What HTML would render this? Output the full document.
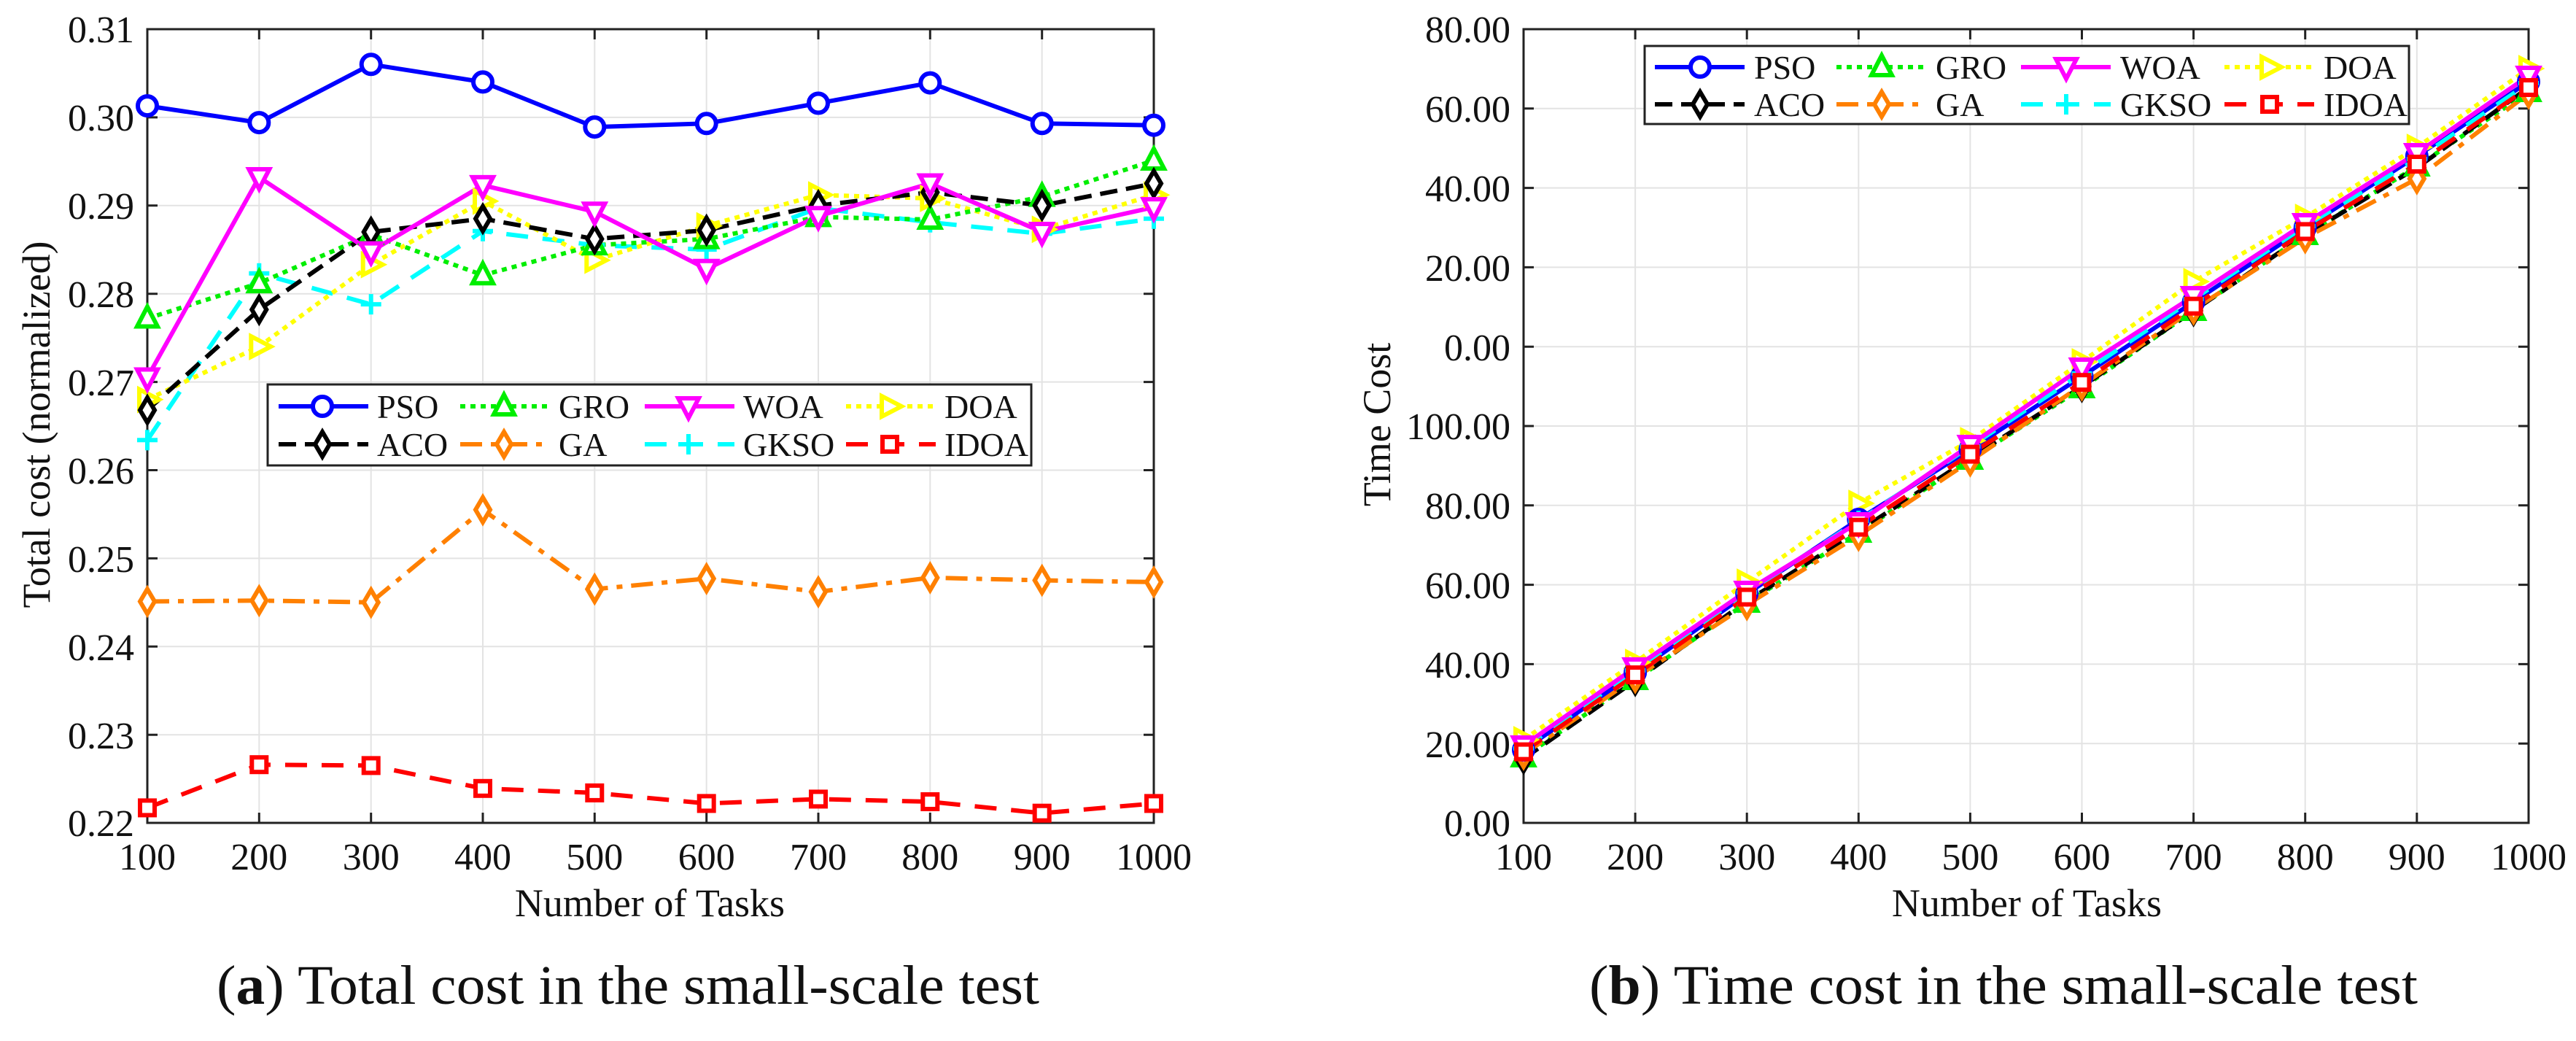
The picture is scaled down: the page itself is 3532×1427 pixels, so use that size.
<!DOCTYPE html>
<html><head><meta charset="utf-8"><style>
html,body{margin:0;padding:0;background:#fff;}
svg{display:block;}
text{font-family:"Liberation Serif",serif;fill:#111;}
</style></head><body>
<svg width="3532" height="1427" viewBox="0 0 3532 1427" xmlns="http://www.w3.org/2000/svg">
<defs>
<g id="mPSO" fill="#fff" stroke="#0000ff" stroke-width="6"><circle cx="0" cy="0" r="13"/></g>
<g id="mGRO" fill="#fff" stroke="#00ee00" stroke-width="6"><polygon points="0,-16 14,11 -14,11"/></g>
<g id="mWOA" fill="#fff" stroke="#ff00ff" stroke-width="6"><polygon points="0,16 14,-11 -14,-11"/></g>
<g id="mDOA" fill="#fff" stroke="#ffff00" stroke-width="6"><polygon points="16,0 -11,14 -11,-14"/></g>
<g id="mACO" fill="#fff" stroke="#000" stroke-width="6"><polygon points="0,-17 10,0 0,17 -10,0"/></g>
<g id="mGA" fill="#fff" stroke="#ff8000" stroke-width="6"><polygon points="0,-17 10,0 0,17 -10,0"/></g>
<g id="mGKSO" stroke="#00ffff" stroke-width="6"><line x1="-14" y1="0" x2="14" y2="0"/><line x1="0" y1="-14" x2="0" y2="14"/></g>
<g id="mIDOA" fill="#fff" stroke="#ff0000" stroke-width="6"><rect x="-10" y="-10" width="20" height="20"/></g>
</defs>

<!-- LEFT CHART -->
<g stroke="#e3e3e3" stroke-width="2">
<line x1="355.3" y1="40" x2="355.3" y2="1128"/><line x1="508.7" y1="40" x2="508.7" y2="1128"/><line x1="662" y1="40" x2="662" y2="1128"/><line x1="815.3" y1="40" x2="815.3" y2="1128"/><line x1="968.7" y1="40" x2="968.7" y2="1128"/><line x1="1122" y1="40" x2="1122" y2="1128"/><line x1="1275.3" y1="40" x2="1275.3" y2="1128"/><line x1="1428.7" y1="40" x2="1428.7" y2="1128"/>
<line x1="202" y1="160.9" x2="1582" y2="160.9"/><line x1="202" y1="281.8" x2="1582" y2="281.8"/><line x1="202" y1="402.7" x2="1582" y2="402.7"/><line x1="202" y1="523.6" x2="1582" y2="523.6"/><line x1="202" y1="644.5" x2="1582" y2="644.5"/><line x1="202" y1="765.4" x2="1582" y2="765.4"/><line x1="202" y1="886.3" x2="1582" y2="886.3"/><line x1="202" y1="1007.2" x2="1582" y2="1007.2"/>
</g>
<g stroke="#222" stroke-width="3">
<path d="M355.3,40v14M508.7,40v14M662,40v14M815.3,40v14M968.7,40v14M1122,40v14M1275.3,40v14M1428.7,40v14M355.3,1128v-14M508.7,1128v-14M662,1128v-14M815.3,1128v-14M968.7,1128v-14M1122,1128v-14M1275.3,1128v-14M1428.7,1128v-14"/>
<path d="M202,160.9h14M202,281.8h14M202,402.7h14M202,523.6h14M202,644.5h14M202,765.4h14M202,886.3h14M202,1007.2h14M1582,160.9h-14M1582,281.8h-14M1582,402.7h-14M1582,523.6h-14M1582,644.5h-14M1582,765.4h-14M1582,886.3h-14M1582,1007.2h-14"/>
<rect x="202" y="40" width="1380" height="1088" fill="none"/>
</g>
<g font-size="52" text-anchor="end">
<text x="184" y="58">0.31</text><text x="184" y="179">0.30</text><text x="184" y="300">0.29</text><text x="184" y="421">0.28</text><text x="184" y="542">0.27</text><text x="184" y="663">0.26</text><text x="184" y="784">0.25</text><text x="184" y="905">0.24</text><text x="184" y="1026">0.23</text><text x="184" y="1146">0.22</text>
</g>
<g font-size="52" text-anchor="middle">
<text x="202" y="1192">100</text><text x="355.3" y="1192">200</text><text x="508.7" y="1192">300</text><text x="662" y="1192">400</text><text x="815.3" y="1192">500</text><text x="968.7" y="1192">600</text><text x="1122" y="1192">700</text><text x="1275.3" y="1192">800</text><text x="1428.7" y="1192">900</text><text x="1582" y="1192">1000</text>
<text x="891" y="1256" font-size="54">Number of Tasks</text>
<text transform="translate(68,582) rotate(-90)" font-size="54">Total cost (normalized)</text>
</g>
<g fill="none" stroke-width="6" stroke-linejoin="round">
<polyline stroke="#ff8000" stroke-dasharray="30,12,8,12" points="202,824.5 355.3,823.3 508.7,825.7 662,698.8 815.3,807.6 968.7,793.1 1122,811.2 1275.3,791.9 1428.7,795.5 1582,797.9"/>
<polyline stroke="#ff0000" stroke-dasharray="30,20" points="202,1107.4 355.3,1048.2 508.7,1049.4 662,1080.8 815.3,1086.9 968.7,1101.4 1122,1095.4 1275.3,1099 1428.7,1114.7 1582,1101.4"/>
<polyline stroke="#00ffff" stroke-dasharray="30,20" points="202,603.3 355.3,374.8 508.7,417.1 662,316.8 815.3,336.1 968.7,342.1 1122,285.3 1275.3,304.7 1428.7,320.4 1582,299.8"/>
<polyline stroke="#ffff00" stroke-dasharray="7,7" points="202,547.7 355.3,475.1 508.7,362.7 662,275.7 815.3,356.7 968.7,309.5 1122,267.2 1275.3,272 1428.7,314.3 1582,267.2"/>
<polyline stroke="#00ee00" stroke-dasharray="7,7" points="202,436.5 355.3,388.1 508.7,321.6 662,377.2 815.3,336.1 968.7,327.6 1122,297.4 1275.3,301 1428.7,269.6 1582,220"/>
<polyline stroke="#000" stroke-dasharray="24,12" points="202,562.2 355.3,424.4 508.7,318 662,299.8 815.3,327.6 968.7,315.6 1122,281.7 1275.3,263.6 1428.7,281.7 1582,251.5"/>
<polyline stroke="#ff00ff" points="202,517.5 355.3,243 508.7,344.6 662,253.9 815.3,290.2 968.7,368.7 1122,296.2 1275.3,251.5 1428.7,318 1582,284.1"/>
<polyline stroke="#0000ff" points="202,145.1 355.3,168.1 508.7,88.3 662,112.4 815.3,174.1 968.7,169.3 1122,141.5 1275.3,113.6 1428.7,169.3 1582,171.7"/>
</g>
<g>
<use href="#mGA" x="202" y="824.5"/><use href="#mGA" x="355.3" y="823.3"/><use href="#mGA" x="508.7" y="825.7"/><use href="#mGA" x="662" y="698.8"/><use href="#mGA" x="815.3" y="807.6"/><use href="#mGA" x="968.7" y="793.1"/><use href="#mGA" x="1122" y="811.2"/><use href="#mGA" x="1275.3" y="791.9"/><use href="#mGA" x="1428.7" y="795.5"/><use href="#mGA" x="1582" y="797.9"/>
<use href="#mIDOA" x="202" y="1107.4"/><use href="#mIDOA" x="355.3" y="1048.2"/><use href="#mIDOA" x="508.7" y="1049.4"/><use href="#mIDOA" x="662" y="1080.8"/><use href="#mIDOA" x="815.3" y="1086.9"/><use href="#mIDOA" x="968.7" y="1101.4"/><use href="#mIDOA" x="1122" y="1095.4"/><use href="#mIDOA" x="1275.3" y="1099"/><use href="#mIDOA" x="1428.7" y="1114.7"/><use href="#mIDOA" x="1582" y="1101.4"/>
<use href="#mGKSO" x="202" y="603.3"/><use href="#mGKSO" x="355.3" y="374.8"/><use href="#mGKSO" x="508.7" y="417.1"/><use href="#mGKSO" x="662" y="316.8"/><use href="#mGKSO" x="815.3" y="336.1"/><use href="#mGKSO" x="968.7" y="342.1"/><use href="#mGKSO" x="1122" y="285.3"/><use href="#mGKSO" x="1275.3" y="304.7"/><use href="#mGKSO" x="1428.7" y="320.4"/><use href="#mGKSO" x="1582" y="299.8"/>
<use href="#mDOA" x="202" y="547.7"/><use href="#mDOA" x="355.3" y="475.1"/><use href="#mDOA" x="508.7" y="362.7"/><use href="#mDOA" x="662" y="275.7"/><use href="#mDOA" x="815.3" y="356.7"/><use href="#mDOA" x="968.7" y="309.5"/><use href="#mDOA" x="1122" y="267.2"/><use href="#mDOA" x="1275.3" y="272"/><use href="#mDOA" x="1428.7" y="314.3"/><use href="#mDOA" x="1582" y="267.2"/>
<use href="#mGRO" x="202" y="436.5"/><use href="#mGRO" x="355.3" y="388.1"/><use href="#mGRO" x="508.7" y="321.6"/><use href="#mGRO" x="662" y="377.2"/><use href="#mGRO" x="815.3" y="336.1"/><use href="#mGRO" x="968.7" y="327.6"/><use href="#mGRO" x="1122" y="297.4"/><use href="#mGRO" x="1275.3" y="301"/><use href="#mGRO" x="1428.7" y="269.6"/><use href="#mGRO" x="1582" y="220"/>
<use href="#mACO" x="202" y="562.2"/><use href="#mACO" x="355.3" y="424.4"/><use href="#mACO" x="508.7" y="318"/><use href="#mACO" x="662" y="299.8"/><use href="#mACO" x="815.3" y="327.6"/><use href="#mACO" x="968.7" y="315.6"/><use href="#mACO" x="1122" y="281.7"/><use href="#mACO" x="1275.3" y="263.6"/><use href="#mACO" x="1428.7" y="281.7"/><use href="#mACO" x="1582" y="251.5"/>
<use href="#mWOA" x="202" y="517.5"/><use href="#mWOA" x="355.3" y="243"/><use href="#mWOA" x="508.7" y="344.6"/><use href="#mWOA" x="662" y="253.9"/><use href="#mWOA" x="815.3" y="290.2"/><use href="#mWOA" x="968.7" y="368.7"/><use href="#mWOA" x="1122" y="296.2"/><use href="#mWOA" x="1275.3" y="251.5"/><use href="#mWOA" x="1428.7" y="318"/><use href="#mWOA" x="1582" y="284.1"/>
<use href="#mPSO" x="202" y="145.1"/><use href="#mPSO" x="355.3" y="168.1"/><use href="#mPSO" x="508.7" y="88.3"/><use href="#mPSO" x="662" y="112.4"/><use href="#mPSO" x="815.3" y="174.1"/><use href="#mPSO" x="968.7" y="169.3"/><use href="#mPSO" x="1122" y="141.5"/><use href="#mPSO" x="1275.3" y="113.6"/><use href="#mPSO" x="1428.7" y="169.3"/><use href="#mPSO" x="1582" y="171.7"/>
</g>
<!-- left legend -->
<rect x="367" y="527" width="1047" height="111" fill="#fff" stroke="#222" stroke-width="3"/>
<g fill="none" stroke-width="6">
<line x1="382" y1="557" x2="505" y2="557" stroke="#0000ff"/>
<line x1="631" y1="557" x2="754" y2="557" stroke="#00ee00" stroke-dasharray="7,7"/>
<line x1="884" y1="557" x2="1007" y2="557" stroke="#ff00ff"/>
<line x1="1160" y1="557" x2="1283" y2="557" stroke="#ffff00" stroke-dasharray="7,7"/>
<line x1="382" y1="609" x2="505" y2="609" stroke="#000" stroke-dasharray="24,12"/>
<line x1="631" y1="609" x2="754" y2="609" stroke="#ff8000" stroke-dasharray="30,12,8,12"/>
<line x1="884" y1="609" x2="1007" y2="609" stroke="#00ffff" stroke-dasharray="30,20"/>
<line x1="1160" y1="609" x2="1283" y2="609" stroke="#ff0000" stroke-dasharray="30,20"/>
</g>
<use href="#mPSO" x="442" y="557"/><use href="#mGRO" x="691" y="557"/><use href="#mWOA" x="944" y="557"/><use href="#mDOA" x="1220" y="557"/>
<use href="#mACO" x="442" y="609"/><use href="#mGA" x="691" y="609"/><use href="#mGKSO" x="944" y="609"/><use href="#mIDOA" x="1220" y="609"/>
<g font-size="46">
<text x="517" y="573">PSO</text><text x="766" y="573">GRO</text><text x="1019" y="573">WOA</text><text x="1295" y="573">DOA</text>
<text x="517" y="625">ACO</text><text x="766" y="625">GA</text><text x="1019" y="625">GKSO</text><text x="1295" y="625">IDOA</text>
</g>
<text x="297" y="1376" font-size="76" textLength="1128" lengthAdjust="spacingAndGlyphs">(<tspan font-weight="bold">a</tspan>) Total cost in the small-scale test</text>

<!-- RIGHT CHART -->
<g stroke="#e3e3e3" stroke-width="2">
<line x1="2242.1" y1="40" x2="2242.1" y2="1128"/><line x1="2395.2" y1="40" x2="2395.2" y2="1128"/><line x1="2548.3" y1="40" x2="2548.3" y2="1128"/><line x1="2701.4" y1="40" x2="2701.4" y2="1128"/><line x1="2854.5" y1="40" x2="2854.5" y2="1128"/><line x1="3007.6" y1="40" x2="3007.6" y2="1128"/><line x1="3160.7" y1="40" x2="3160.7" y2="1128"/><line x1="3313.8" y1="40" x2="3313.8" y2="1128"/>
<line x1="2089" y1="148.8" x2="3467" y2="148.8"/><line x1="2089" y1="257.6" x2="3467" y2="257.6"/><line x1="2089" y1="366.4" x2="3467" y2="366.4"/><line x1="2089" y1="475.2" x2="3467" y2="475.2"/><line x1="2089" y1="584" x2="3467" y2="584"/><line x1="2089" y1="692.8" x2="3467" y2="692.8"/><line x1="2089" y1="801.6" x2="3467" y2="801.6"/><line x1="2089" y1="910.4" x2="3467" y2="910.4"/><line x1="2089" y1="1019.2" x2="3467" y2="1019.2"/>
</g>
<g stroke="#222" stroke-width="3">
<path d="M2242.1,40v14M2395.2,40v14M2548.3,40v14M2701.4,40v14M2854.5,40v14M3007.6,40v14M3160.7,40v14M3313.8,40v14M2242.1,1128v-14M2395.2,1128v-14M2548.3,1128v-14M2701.4,1128v-14M2854.5,1128v-14M3007.6,1128v-14M3160.7,1128v-14M3313.8,1128v-14"/>
<path d="M2089,148.8h14M2089,257.6h14M2089,366.4h14M2089,475.2h14M2089,584h14M2089,692.8h14M2089,801.6h14M2089,910.4h14M2089,1019.2h14M3467,148.8h-14M3467,257.6h-14M3467,366.4h-14M3467,475.2h-14M3467,584h-14M3467,692.8h-14M3467,801.6h-14M3467,910.4h-14M3467,1019.2h-14"/>
<rect x="2089" y="40" width="1378" height="1088" fill="none"/>
</g>
<g font-size="52" text-anchor="end">
<text x="2071" y="58">80.00</text><text x="2071" y="167">60.00</text><text x="2071" y="276">40.00</text><text x="2071" y="385">20.00</text><text x="2071" y="494">0.00</text><text x="2071" y="602">100.00</text><text x="2071" y="711">80.00</text><text x="2071" y="820">60.00</text><text x="2071" y="929">40.00</text><text x="2071" y="1038">20.00</text><text x="2071" y="1146">0.00</text>
</g>
<g font-size="52" text-anchor="middle">
<text x="2089" y="1192">100</text><text x="2242.1" y="1192">200</text><text x="2395.2" y="1192">300</text><text x="2548.3" y="1192">400</text><text x="2701.4" y="1192">500</text><text x="2854.5" y="1192">600</text><text x="3007.6" y="1192">700</text><text x="3160.7" y="1192">800</text><text x="3313.8" y="1192">900</text><text x="3467" y="1192">1000</text>
<text x="2779" y="1256" font-size="54">Number of Tasks</text>
<text transform="translate(1906,582) rotate(-90)" font-size="54">Time Cost</text>
</g>
<g fill="none" stroke-width="6" stroke-linejoin="round">
<polyline stroke="#00ee00" stroke-dasharray="7,7" points="2089,1038 2242.1,932 2395.2,826 2548.3,730 2701.4,630 2854.5,532 3007.6,426 3160.7,322 3313.8,228 3467,126"/>
<polyline stroke="#000" stroke-dasharray="24,12" points="2089,1040 2242.1,933 2395.2,824 2548.3,728 2701.4,628 2854.5,530 3007.6,426 3160.7,322 3313.8,230 3467,120"/>
<polyline stroke="#ff8000" stroke-dasharray="30,12,8,12" points="2089,1034 2242.1,929 2395.2,829 2548.3,734 2701.4,632 2854.5,528 3007.6,424 3160.7,326 3313.8,245 3467,128"/>
<polyline stroke="#ffff00" stroke-dasharray="7,7" points="2089,1014 2242.1,908 2395.2,798 2548.3,690 2701.4,604 2854.5,496 3007.6,386 3160.7,298 3313.8,202 3467,94"/>
<polyline stroke="#0000ff" points="2089,1028 2242.1,922 2395.2,814 2548.3,712 2701.4,616 2854.5,516 3007.6,414 3160.7,312 3313.8,214 3467,112"/>
<polyline stroke="#00ffff" stroke-dasharray="30,20" points="2089,1026 2242.1,919 2395.2,812 2548.3,714 2701.4,612 2854.5,512 3007.6,410 3160.7,310 3313.8,218 3467,114"/>
<polyline stroke="#ff00ff" points="2089,1022 2242.1,915 2395.2,810 2548.3,716 2701.4,610 2854.5,504 3007.6,406 3160.7,306 3313.8,210 3467,104"/>
<polyline stroke="#ff0000" stroke-dasharray="30,20" points="2089,1030.6 2242.1,925.1 2395.2,818.5 2548.3,722.7 2701.4,622.6 2854.5,524.2 3007.6,419.7 3160.7,317.4 3313.8,225 3467,120"/>
</g>
<g>
<use href="#mGRO" x="2089" y="1038"/><use href="#mGRO" x="2242.1" y="932"/><use href="#mGRO" x="2395.2" y="826"/><use href="#mGRO" x="2548.3" y="730"/><use href="#mGRO" x="2701.4" y="630"/><use href="#mGRO" x="2854.5" y="532"/><use href="#mGRO" x="3007.6" y="426"/><use href="#mGRO" x="3160.7" y="322"/><use href="#mGRO" x="3313.8" y="228"/><use href="#mGRO" x="3467" y="126"/>
<use href="#mACO" x="2089" y="1040"/><use href="#mACO" x="2242.1" y="933"/><use href="#mACO" x="2395.2" y="824"/><use href="#mACO" x="2548.3" y="728"/><use href="#mACO" x="2701.4" y="628"/><use href="#mACO" x="2854.5" y="530"/><use href="#mACO" x="3007.6" y="426"/><use href="#mACO" x="3160.7" y="322"/><use href="#mACO" x="3313.8" y="230"/><use href="#mACO" x="3467" y="120"/>
<use href="#mGA" x="2089" y="1034"/><use href="#mGA" x="2242.1" y="929"/><use href="#mGA" x="2395.2" y="829"/><use href="#mGA" x="2548.3" y="734"/><use href="#mGA" x="2701.4" y="632"/><use href="#mGA" x="2854.5" y="528"/><use href="#mGA" x="3007.6" y="424"/><use href="#mGA" x="3160.7" y="326"/><use href="#mGA" x="3313.8" y="245"/><use href="#mGA" x="3467" y="128"/>
<use href="#mDOA" x="2089" y="1014"/><use href="#mDOA" x="2242.1" y="908"/><use href="#mDOA" x="2395.2" y="798"/><use href="#mDOA" x="2548.3" y="690"/><use href="#mDOA" x="2701.4" y="604"/><use href="#mDOA" x="2854.5" y="496"/><use href="#mDOA" x="3007.6" y="386"/><use href="#mDOA" x="3160.7" y="298"/><use href="#mDOA" x="3313.8" y="202"/><use href="#mDOA" x="3467" y="94"/>
<use href="#mPSO" x="2089" y="1028"/><use href="#mPSO" x="2242.1" y="922"/><use href="#mPSO" x="2395.2" y="814"/><use href="#mPSO" x="2548.3" y="712"/><use href="#mPSO" x="2701.4" y="616"/><use href="#mPSO" x="2854.5" y="516"/><use href="#mPSO" x="3007.6" y="414"/><use href="#mPSO" x="3160.7" y="312"/><use href="#mPSO" x="3313.8" y="214"/><use href="#mPSO" x="3467" y="112"/>
<use href="#mGKSO" x="2089" y="1026"/><use href="#mGKSO" x="2242.1" y="919"/><use href="#mGKSO" x="2395.2" y="812"/><use href="#mGKSO" x="2548.3" y="714"/><use href="#mGKSO" x="2701.4" y="612"/><use href="#mGKSO" x="2854.5" y="512"/><use href="#mGKSO" x="3007.6" y="410"/><use href="#mGKSO" x="3160.7" y="310"/><use href="#mGKSO" x="3313.8" y="218"/><use href="#mGKSO" x="3467" y="114"/>
<use href="#mWOA" x="2089" y="1022"/><use href="#mWOA" x="2242.1" y="915"/><use href="#mWOA" x="2395.2" y="810"/><use href="#mWOA" x="2548.3" y="716"/><use href="#mWOA" x="2701.4" y="610"/><use href="#mWOA" x="2854.5" y="504"/><use href="#mWOA" x="3007.6" y="406"/><use href="#mWOA" x="3160.7" y="306"/><use href="#mWOA" x="3313.8" y="210"/><use href="#mWOA" x="3467" y="104"/>
<use href="#mIDOA" x="2089" y="1030.6"/><use href="#mIDOA" x="2242.1" y="925.1"/><use href="#mIDOA" x="2395.2" y="818.5"/><use href="#mIDOA" x="2548.3" y="722.7"/><use href="#mIDOA" x="2701.4" y="622.6"/><use href="#mIDOA" x="2854.5" y="524.2"/><use href="#mIDOA" x="3007.6" y="419.7"/><use href="#mIDOA" x="3160.7" y="317.4"/><use href="#mIDOA" x="3313.8" y="225"/><use href="#mIDOA" x="3467" y="120"/>
</g>
<!-- right legend -->
<rect x="2255" y="63" width="1048" height="107" fill="#fff" stroke="#222" stroke-width="3"/>
<g fill="none" stroke-width="6">
<line x1="2269" y1="92" x2="2392" y2="92" stroke="#0000ff"/>
<line x1="2518" y1="92" x2="2641" y2="92" stroke="#00ee00" stroke-dasharray="7,7"/>
<line x1="2771" y1="92" x2="2894" y2="92" stroke="#ff00ff"/>
<line x1="3050" y1="92" x2="3173" y2="92" stroke="#ffff00" stroke-dasharray="7,7"/>
<line x1="2269" y1="143" x2="2392" y2="143" stroke="#000" stroke-dasharray="24,12"/>
<line x1="2518" y1="143" x2="2641" y2="143" stroke="#ff8000" stroke-dasharray="30,12,8,12"/>
<line x1="2771" y1="143" x2="2894" y2="143" stroke="#00ffff" stroke-dasharray="30,20"/>
<line x1="3050" y1="143" x2="3173" y2="143" stroke="#ff0000" stroke-dasharray="30,20"/>
</g>
<use href="#mPSO" x="2331" y="92"/><use href="#mGRO" x="2580" y="92"/><use href="#mWOA" x="2833" y="92"/><use href="#mDOA" x="3112" y="92"/>
<use href="#mACO" x="2331" y="143"/><use href="#mGA" x="2580" y="143"/><use href="#mGKSO" x="2833" y="143"/><use href="#mIDOA" x="3112" y="143"/>
<g font-size="46">
<text x="2405" y="108">PSO</text><text x="2654" y="108">GRO</text><text x="2907" y="108">WOA</text><text x="3186" y="108">DOA</text>
<text x="2405" y="159">ACO</text><text x="2654" y="159">GA</text><text x="2907" y="159">GKSO</text><text x="3186" y="159">IDOA</text>
</g>
<text x="2179" y="1376" font-size="76" textLength="1136" lengthAdjust="spacingAndGlyphs">(<tspan font-weight="bold">b</tspan>) Time cost in the small-scale test</text>
</svg>
</body></html>
